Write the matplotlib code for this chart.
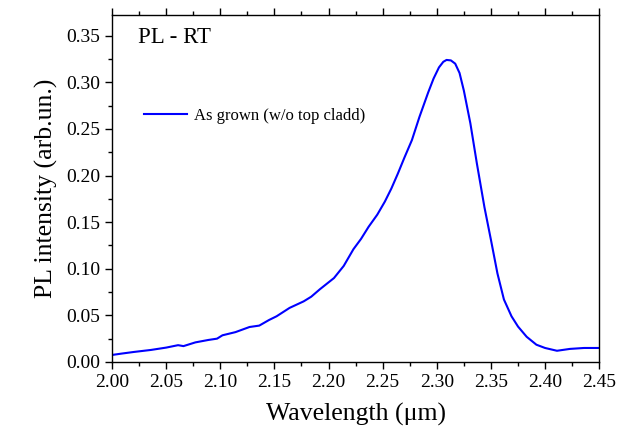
import numpy as np
import matplotlib
matplotlib.use("Agg")
import matplotlib.pyplot as plt
from matplotlib.ticker import MultipleLocator, FormatStrFormatter

plt.rcParams['font.family'] = ['Liberation Serif', 'DejaVu Serif']

# PL spectrum
wavelength = [2.000, 2.009, 2.020, 2.036, 2.050, 2.061, 2.066, 2.077, 2.089, 2.097,
              2.102, 2.114, 2.127, 2.136, 2.145, 2.152, 2.164, 2.177, 2.184, 2.192,
              2.205, 2.214, 2.223, 2.230, 2.237, 2.245, 2.252, 2.258, 2.264, 2.270,
              2.277, 2.284, 2.292, 2.297, 2.302, 2.306, 2.309, 2.313, 2.317, 2.321,
              2.325, 2.331, 2.337, 2.344, 2.350, 2.356, 2.362, 2.369, 2.375, 2.383,
              2.392, 2.400, 2.411, 2.423, 2.436, 2.450]
intensity = [0.0075, 0.0090, 0.0107, 0.0129, 0.0154, 0.0180, 0.0170, 0.0210, 0.0236, 0.0250,
             0.0286, 0.0320, 0.0375, 0.0390, 0.0450, 0.0490, 0.0580, 0.0650, 0.0700, 0.0780,
             0.0900, 0.1030, 0.1210, 0.1320, 0.1450, 0.1580, 0.1720, 0.1860, 0.2020, 0.2190,
             0.2380, 0.2630, 0.2890, 0.3040, 0.3160, 0.3220, 0.3240, 0.3235, 0.3200, 0.3100,
             0.2910, 0.2560, 0.2130, 0.1660, 0.1310, 0.0950, 0.0670, 0.0490, 0.0380, 0.0270,
             0.0185, 0.0150, 0.0120, 0.0140, 0.0150, 0.0150]

fig = plt.figure(figsize=(6.19, 4.34), dpi=100)
ax = fig.add_axes([0.181, 0.166, 0.787, 0.799])

ax.plot(wavelength, intensity, color='#0000ff', lw=1.5, label='As grown (w/o top cladd)')

ax.set_xlim(2.0, 2.45)
ax.set_ylim(0, 0.372)
ax.xaxis.set_major_locator(MultipleLocator(0.05))
ax.xaxis.set_minor_locator(MultipleLocator(0.025))
ax.yaxis.set_major_locator(MultipleLocator(0.05))
ax.yaxis.set_minor_locator(MultipleLocator(0.025))
ax.xaxis.set_major_formatter(FormatStrFormatter('%.2f'))
ax.yaxis.set_major_formatter(FormatStrFormatter('%.2f'))

ax.tick_params(which='both', direction='out', top=True, right=False, labelsize=14, width=1)
ax.tick_params(which='major', length=5)
ax.tick_params(which='minor', length=3)
for s in ax.spines.values():
    s.set_linewidth(1)

ax.set_xlabel('Wavelength (\u03bcm)', fontsize=18.5, labelpad=9)
ax.set_ylabel('PL intensity (arb.un.)', fontsize=18.5, labelpad=6)

ax.text(0.053, 0.935, 'PL - RT', transform=ax.transAxes, fontsize=16.5, va='center')
ax.legend(loc='upper left', bbox_to_anchor=(0.035, 0.775), frameon=False, fontsize=12,
          handlelength=2.6, handletextpad=0.4)

plt.savefig('out.png', dpi=100)
